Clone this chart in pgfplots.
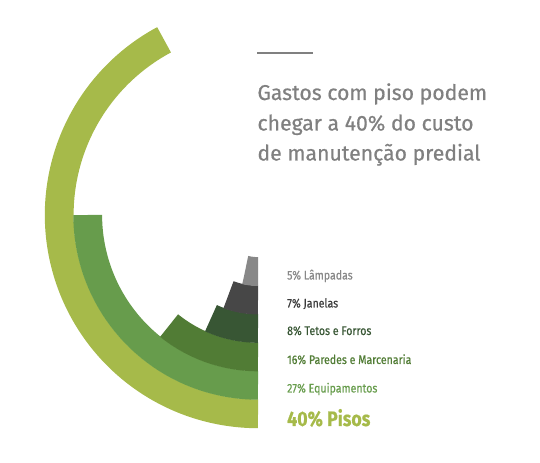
\documentclass[border=0pt]{standalone}
\usepackage{pgfplots}
\pgfplotsset{compat=1.18}
\usepackage{fontspec}
\setmainfont{Fira Sans}[FakeStretch=0.85, FakeBold=0.5]
\newfontfamily\titlefont{Fira Sans}[FakeStretch=0.99, FakeBold=0.6]

\definecolor{cPisos}{HTML}{A6BA4A}
\definecolor{cEquip}{HTML}{679C4C}
\definecolor{cParedes}{HTML}{517C35}
\definecolor{cTetos}{HTML}{385634}
\definecolor{cJanelas}{HTML}{474747}
\definecolor{cLamp}{HTML}{888888}
\definecolor{cTitle}{HTML}{808080}

% band: start angle (polar, degrees), band centre radius; every band ends at 270 (bottom)
\begin{document}
\begin{tikzpicture}
\begin{axis}[scale only axis, x=1bp, y=1bp,
  xmin=-258, xmax=282, ymin=-248, ymax=215,
  hide axis, clip=false]
\pgfplotsset{band/.style={data cs=polar, samples=160, line width=28.8bp, no marks}}
% 40% Pisos
\addplot[band, draw=cPisos, domain=118.2:270] ({x},{198.8});
% 27% Equipamentos
\addplot[band, draw=cEquip, domain=180:270] ({x},{170.3});
% 16% Paredes e Marcenaria
\addplot[band, draw=cParedes, domain=231.2:270] ({x},{141.9});
% 8% Tetos e Forros
\addplot[band, draw=cTetos, domain=245.5:270] ({x},{113.4});
% 7% Janelas
\addplot[band, draw=cJanelas, domain=249.7:270] ({x},{85.0});
% 5% Lampadas
\addplot[band, draw=cLamp, domain=257:270] ({x},{56.5});

\draw[cTitle, line width=2bp] (axis cs:-1,161.7) -- (axis cs:55,161.7);
\begin{scope}[every node/.style={anchor=base west, inner sep=0pt, text=cTitle, font=\titlefont\fontsize{21.5}{21.5}\selectfont}]
\node at (axis cs:-0.7,115) {Gastos com piso podem};
\node at (axis cs:-0.7,84.5) {chegar a 40\% do custo};
\node at (axis cs:-0.7,54.5) {de manutenção predial};
\end{scope}

\begin{scope}[every node/.style={anchor=base west, inner sep=0pt, font=\fontsize{12.5}{12.5}\selectfont}]
\node[text=cLamp] at (axis cs:29,-64.5) {5\% Lâmpadas};
\node[text=cJanelas!85!black] at (axis cs:29,-92.5) {7\% Janelas};
\node[text=cTetos] at (axis cs:29,-120) {8\% Tetos e Forros};
\node[text=cParedes] at (axis cs:29,-149) {16\% Paredes e Marcenaria};
\node[text=cEquip] at (axis cs:29,-177.5) {27\% Equipamentos};
\node[text=cPisos, font=\fontsize{21}{21}\selectfont\bfseries] at (axis cs:29,-211) {40\% Pisos};
\end{scope}
\end{axis}
\pgfresetboundingbox
\path (0,0) rectangle (540bp,463bp);
\end{tikzpicture}
\end{document}
